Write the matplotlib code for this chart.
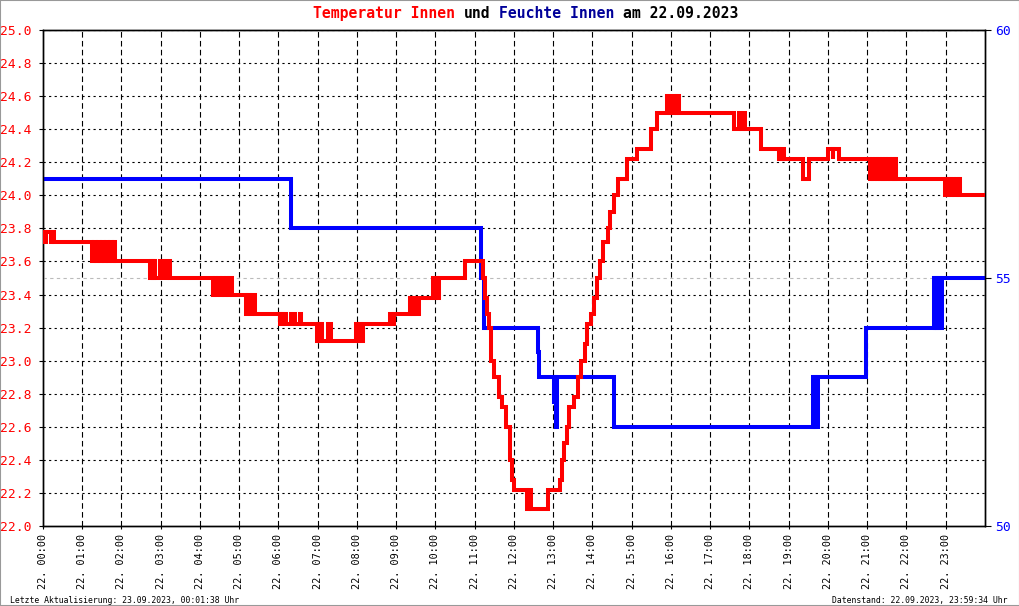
import matplotlib
matplotlib.use("Agg")
import matplotlib.pyplot as plt
from matplotlib.patches import Rectangle

# =========================================
# Data (hours since 00:00 on 22.09.2023)
# =========================================

temp_hours = [
    0.00, 0.04, 0.07, 0.20, 0.23, 0.29,
    1.26, 1.30, 1.35, 1.40, 1.45, 1.50, 1.56, 1.61, 1.66, 1.71, 1.76, 1.80, 1.83,
    2.72, 2.76, 2.79, 2.83, 2.86, 2.98, 3.05, 3.15, 3.23,
    4.34, 4.38, 4.42, 4.46, 4.52, 4.56, 4.62, 4.66, 4.71, 4.75, 4.81,
    5.18, 5.22, 5.27, 5.32, 5.41,
    6.03, 6.07, 6.11, 6.15, 6.20, 6.33, 6.41, 6.54, 6.58,
    6.97, 7.00, 7.05, 7.08, 7.12, 7.26, 7.35,
    7.98, 8.02, 8.06, 8.10, 8.15,
    8.83, 8.88, 8.93,
    9.34, 9.37, 9.40, 9.43, 9.46, 9.51, 9.57,
    9.93, 9.97, 10.01, 10.05, 10.08,
    10.74,
    11.21, 11.25, 11.31, 11.36, 11.42, 11.49, 11.61, 11.70, 11.80, 11.89, 11.95,
    12.01, 12.34, 12.39, 12.44, 12.86,
    13.16, 13.22, 13.28, 13.34, 13.41, 13.54, 13.62, 13.71, 13.80, 13.87, 13.96,
    14.05, 14.12, 14.18, 14.26, 14.39, 14.45, 14.55, 14.66, 14.89,
    15.14, 15.49, 15.65, 15.91, 15.98, 16.08, 16.12, 16.15, 16.21,
    17.61, 17.74, 17.78, 17.83, 17.89,
    18.29, 18.76, 18.84, 18.88,
    19.37, 19.52, 19.99, 20.12, 20.14, 20.29,
    21.07, 21.11, 21.15, 21.19, 21.24, 21.28, 21.33, 21.37, 21.39,
    21.45, 21.49, 21.53, 21.58, 21.62, 21.67, 21.71, 21.73,
    22.97, 23.01, 23.05, 23.09, 23.13, 23.17, 23.22, 23.26, 23.31, 23.34, 23.36,
    24.00,
]
temp_values = [
    23.78, 23.72, 23.78, 23.72, 23.78, 23.72,
    23.60, 23.72, 23.60, 23.72, 23.60, 23.72, 23.60, 23.72, 23.60, 23.72, 23.60, 23.72, 23.60,
    23.50, 23.60, 23.50, 23.60, 23.50, 23.60, 23.50, 23.60, 23.50,
    23.40, 23.50, 23.40, 23.50, 23.40, 23.50, 23.40, 23.50, 23.40, 23.50, 23.40,
    23.28, 23.40, 23.28, 23.40, 23.28,
    23.22, 23.28, 23.22, 23.28, 23.22, 23.28, 23.22, 23.28, 23.22,
    23.12, 23.22, 23.12, 23.22, 23.12, 23.22, 23.12,
    23.22, 23.12, 23.22, 23.12, 23.22,
    23.28, 23.22, 23.28,
    23.38, 23.28, 23.38, 23.28, 23.38, 23.28, 23.38,
    23.50, 23.38, 23.50, 23.38, 23.50,
    23.60,
    23.50, 23.38, 23.28, 23.20, 23.00, 22.90, 22.78, 22.72, 22.60, 22.40, 22.28,
    22.22, 22.10, 22.22, 22.10, 22.22,
    22.28, 22.40, 22.50, 22.60, 22.72, 22.78, 22.90, 23.00, 23.10, 23.22, 23.28,
    23.38, 23.50, 23.60, 23.72, 23.80, 23.90, 24.00, 24.10, 24.22,
    24.28, 24.40, 24.50, 24.60, 24.50, 24.60, 24.50, 24.60, 24.50,
    24.40, 24.50, 24.40, 24.50, 24.40,
    24.28, 24.22, 24.28, 24.22,
    24.10, 24.22, 24.28, 24.22, 24.28, 24.22,
    24.10, 24.22, 24.10, 24.22, 24.10, 24.22, 24.10, 24.22, 24.10,
    24.22, 24.10, 24.22, 24.10, 24.22, 24.10, 24.22, 24.10,
    24.00, 24.10, 24.00, 24.10, 24.00, 24.10, 24.00, 24.10, 24.00, 24.10, 24.00,
    24.00,
]

hum_hours = [
    0.00, 6.31, 11.17, 11.23, 12.60, 12.64, 13.03, 13.05, 13.06, 13.09, 14.56,
    19.61, 19.64, 19.67, 19.70, 19.74, 20.98,
    22.69, 22.72, 22.75, 22.78, 22.82, 22.85, 22.90, 24.00,
]
hum_values = [
    57, 56, 55, 54, 53.5, 53, 52.5, 53, 52, 53, 52,
    53, 52, 53, 52, 53, 54,
    55, 54, 55, 54, 55, 54, 55, 55,
]

hour_ticks = list(range(24))
hour_labels = [f"22. {h:02d}:00" for h in hour_ticks]
temp_ticks = [22.0 + 0.2 * i for i in range(16)]
hum_ticks = [50, 55, 60]

RED = "#ff0000"
BLUE = "#0000ff"
MONO = "DejaVu Sans Mono"

plt.rcParams["font.family"] = MONO

W, H = 1020, 606
fig = plt.figure(figsize=(W / 100, H / 100), dpi=100)
fig.patch.set_facecolor("white")

ax = fig.add_axes([43 / W, 1 - 526 / H, 942 / W, 496 / H])
ax2 = ax.twinx()

ax.set_xlim(0, 24)
ax.set_ylim(22.0, 25.0)
ax2.set_ylim(50, 60)

# grid lines
for h in hour_ticks[1:]:
    ax.axvline(h, color="black", lw=0.8, linestyle=(0, (5, 3)), zorder=0)
for t in temp_ticks[1:]:
    ax.axhline(t, color="black", lw=0.8, linestyle=(0, (2, 3)), zorder=0)
ax2.axhline(55, color="#bbbbbb", lw=0.8, linestyle=(0, (3, 3)), zorder=0)

# humidity (blue) then temperature (red) on top
ax2.plot(hum_hours, hum_values, drawstyle="steps-post", color=BLUE,
         lw=2.9, solid_joinstyle="miter", zorder=2)
ax2.plot(temp_hours, temp_values, drawstyle="steps-post", color=RED,
         lw=2.9, solid_joinstyle="miter", zorder=3, transform=ax.transData)

# axes styling
for sp in list(ax.spines.values()) + list(ax2.spines.values()):
    sp.set_linewidth(1.0)
    sp.set_color("black")

ax.set_xticks(hour_ticks)
ax.set_xticklabels(hour_labels, rotation=90, fontsize=7.3, va="top", ha="center")
ax.tick_params(axis="x", length=2.5, width=0.8, pad=3.5, colors="black")

ax.set_yticks(temp_ticks)
ax.set_yticklabels([f"{t:.1f}" for t in temp_ticks], fontsize=9.4, color=RED)
ax.tick_params(axis="y", length=3, width=0.8, pad=5)

ax2.set_yticks(hum_ticks)
ax2.set_yticklabels([str(v) for v in hum_ticks], fontsize=9.4, color=BLUE)
ax2.tick_params(axis="y", length=4.5, width=0.8, pad=2.5)

# title in coloured pieces (monospace, so columns are even)
fs_title = 10.6
cw = fs_title * 100 / 72 * 0.602
x0 = 313
pieces = [
    ("Temperatur Innen", 0, RED),
    ("und", 17, "black"),
    ("Feuchte Innen", 21, "#000099"),
    ("am 22.09.2023", 35, "black"),
]
for txt, col, c in pieces:
    fig.text((x0 + col * cw) / W, 1 - 18 / H, txt, color=c, fontsize=fs_title,
             fontweight="bold", ha="left", va="baseline")

fig.text(10 / W, 3 / H, "Letzte Aktualisierung: 23.09.2023, 00:01:38 Uhr",
         fontsize=5.9, ha="left", va="baseline")
fig.text(1008 / W, 3 / H, "Datenstand: 22.09.2023, 23:59:34 Uhr",
         fontsize=5.9, ha="right", va="baseline")

fig.patches.append(Rectangle((0, 0), 1, 1, transform=fig.transFigure, fill=False,
                             edgecolor="#999999", lw=1.5))

fig.savefig("out.png", dpi=100)
